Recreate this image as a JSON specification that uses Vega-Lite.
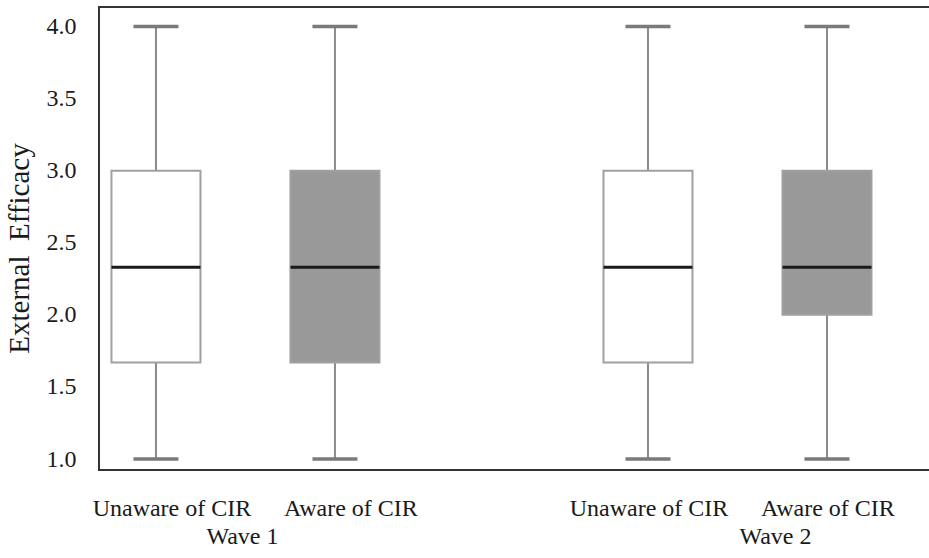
{
  "$schema": "https://vega.github.io/schema/vega-lite/v6.json",
  "width": 833,
  "height": 463,
  "autosize": "none",
  "padding": {"left": 99, "top": 7, "right": -3, "bottom": 88},
  "background": "#ffffff",
  "config": {
    "view": {"stroke": "#333333", "strokeWidth": 2},
    "font": "Liberation Serif"
  },
  "data": {
    "values": [
      {"wave": "Wave 1", "group": "Unaware of CIR", "lower": 1.0, "q1": 1.67, "median": 2.33, "q3": 3.0, "upper": 4.0},
      {"wave": "Wave 1", "group": "Aware of CIR", "lower": 1.0, "q1": 1.67, "median": 2.33, "q3": 3.0, "upper": 4.0},
      {"wave": "Wave 2", "group": "Unaware of CIR", "lower": 1.0, "q1": 1.67, "median": 2.33, "q3": 3.0, "upper": 4.0},
      {"wave": "Wave 2", "group": "Aware of CIR", "lower": 1.0, "q1": 2.0, "median": 2.33, "q3": 3.0, "upper": 4.0}
    ]
  },
  "encoding": {
    "x": {
      "field": "wave",
      "type": "nominal",
      "sort": ["Wave 1", "Wave 2"],
      "scale": {"paddingInner": 0.5, "paddingOuter": 0.0965, "align": 0.247},
      "axis": {
        "title": null,
        "orient": "bottom",
        "labelAngle": 0,
        "ticks": false,
        "domain": false,
        "labelFont": "Liberation Serif",
        "labelFontSize": 24,
        "labelColor": "#1a1a1a",
        "labelPadding": 54,
        "labelOffset": {"condition": {"test": "datum.value == 'Wave 2'", "value": 38}, "value": -3}
      }
    },
    "xOffset": {
      "field": "group",
      "type": "nominal",
      "sort": ["Unaware of CIR", "Aware of CIR"],
      "scale": {"paddingInner": 0.8, "paddingOuter": 0.0872}
    }
  },
  "layer": [
    {
      "mark": {"type": "rule", "color": "#8a8a8a", "strokeWidth": 2},
      "encoding": {
        "y": {
          "field": "lower",
          "type": "quantitative",
          "scale": {"domain": [0.924, 4.135], "nice": false, "zero": false},
          "axis": {
            "values": [1, 1.5, 2, 2.5, 3, 3.5, 4],
            "format": ".1f",
            "grid": false,
            "ticks": false,
            "domain": false,
            "labelFont": "Liberation Serif",
            "labelFontSize": 24,
            "labelColor": "#1a1a1a",
            "labelPadding": 23,
            "title": "External\u00a0 Efficacy",
            "titleFont": "Liberation Serif",
            "titleFontSize": 29,
            "titleFontWeight": "normal",
            "titleColor": "#1a1a1a",
            "titleX": -65,
            "titleY": 241
          }
        },
        "y2": {"field": "upper"}
      }
    },
    {
      "mark": {"type": "bar", "width": 89, "stroke": "#a0a0a0", "strokeWidth": 2, "opacity": 1},
      "encoding": {
        "y": {"field": "q1", "type": "quantitative"},
        "y2": {"field": "q3"},
        "color": {
          "field": "group",
          "type": "nominal",
          "scale": {"domain": ["Unaware of CIR", "Aware of CIR"], "range": ["#ffffff", "#999999"]},
          "legend": null
        }
      }
    },
    {
      "mark": {"type": "tick", "size": 89, "thickness": 3, "color": "#1a1a1a", "opacity": 1},
      "encoding": {"y": {"field": "median", "type": "quantitative"}}
    },
    {
      "mark": {"type": "tick", "size": 45, "thickness": 3.5, "color": "#7a7a7a", "opacity": 1},
      "encoding": {"y": {"field": "upper", "type": "quantitative"}}
    },
    {
      "mark": {"type": "tick", "size": 45, "thickness": 3.5, "color": "#7a7a7a", "opacity": 1},
      "encoding": {"y": {"field": "lower", "type": "quantitative"}}
    },
    {
      "mark": {
        "type": "text",
        "font": "Liberation Serif",
        "fontSize": 24,
        "color": "#1a1a1a",
        "baseline": "alphabetic",
        "align": "center",
        "dy": 46,
        "dx": {"expr": "datum.wave == 'Wave 1' ? 16 : 1"}
      },
      "encoding": {
        "text": {"field": "group"},
        "y": {"datum": 0.924}
      }
    }
  ]
}
